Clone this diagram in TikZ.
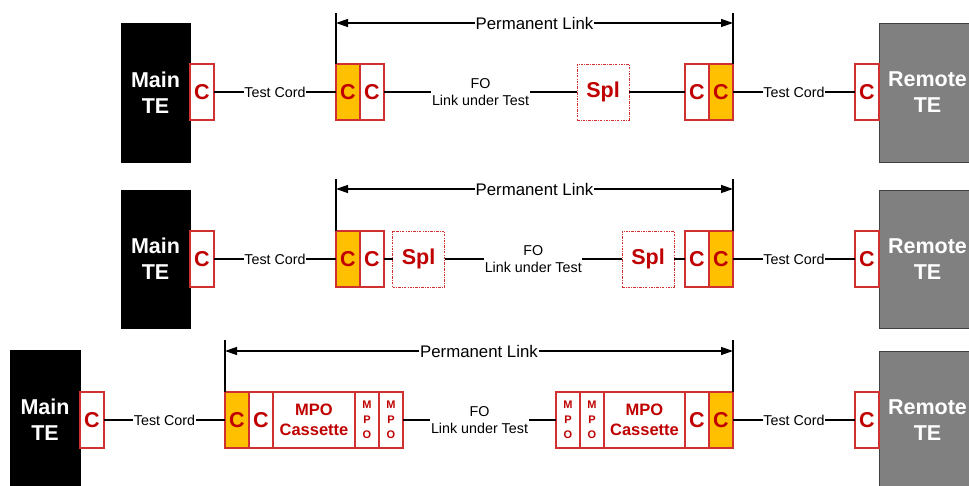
\documentclass[tikz,border=0pt]{standalone}
\usepackage{fontspec}
\setmainfont{Liberation Sans}
\usetikzlibrary{arrows.meta}
\definecolor{cred}{HTML}{C00000}
\definecolor{bred}{HTML}{D03030}
\definecolor{corange}{HTML}{FFC000}
\definecolor{cgray}{HTML}{808080}
\definecolor{dgray}{HTML}{404040}
\tikzset{
 box/.style={draw=bred, line width=1.1pt, inner sep=0pt, outer sep=0pt, font=\fontsize{21.5}{24}\selectfont\bfseries, text=cred, anchor=center},
 cbox/.style={box, fill=white, minimum width=24pt, minimum height=56pt},
 obox/.style={cbox, fill=corange},
 splbox/.style={box, fill=white, line width=0.8pt, dash pattern=on 2.5pt off 1.2pt on 0.8pt off 1.2pt, minimum width=52pt, minimum height=56pt},
 casbox/.style={box, fill=white, minimum height=56pt, font=\fontsize{16.5}{20}\selectfont\bfseries, align=center},
 mpobox/.style={box, fill=white, minimum width=24pt, minimum height=56pt, font=\fontsize{11}{15}\selectfont\bfseries, align=center},
 mainte/.style={fill=black, draw=black, inner sep=0pt, outer sep=0pt, minimum width=69pt, minimum height=139pt, text=white, font=\fontsize{21.5}{26}\selectfont\bfseries, align=center},
 remte/.style={mainte, fill=cgray, draw=dgray, line width=0.6pt, minimum width=97pt},
 cable/.style={line width=2pt, black},
 lbl/.style={fill=white, inner sep=0.6pt, font=\fontsize{14.3}{17}\selectfont, align=center, text=black},
 plink/.style={line width=1.3pt, {Triangle[length=12pt,width=8pt]}-{Triangle[length=12pt,width=8pt]}},
 bar/.style={line width=1.3pt},
 plbl/.style={fill=white, inner sep=1pt, font=\fontsize{16.8}{20}\selectfont},
}
\begin{document}
\begin{tikzpicture}[x=1pt,y=-1pt]
\useasboundingbox (0,0) rectangle (969,486);
\clip (0,0) rectangle (969,486);

% ---------- Row 1 ----------
\node[mainte] (m1) at (155.5,92.5) {Main\\TE};
\node[cbox] (c1a) at (202,92) {C};
\node[obox] (o1a) at (348,92) {C};
\node[cbox] (c1b) at (372,92) {C};
\node[splbox] (s1) at (603,92) {Spl};
\node[cbox] (c1c) at (697,92) {C};
\node[obox] (o1b) at (721,92) {C};
\node[remte] (r1) at (927.5,92.5) {Remote\\TE};
\node[cbox] (c1d) at (867,92) {C};
\draw[cable] (c1a) -- node[lbl]{Test Cord} (o1a);
\draw[cable] (c1b) -- node[lbl]{FO\\Link under Test} (s1);
\draw[cable] (s1) -- (c1c);
\draw[cable] (o1b) -- node[lbl]{Test Cord} (c1d);
\coordinate (t1l) at (336,13);
\coordinate (t1r) at (733,13);
\coordinate (a1l) at (336,23);
\coordinate (a1r) at (733,23);
\draw[bar] (o1a.north west) -- (t1l);
\draw[bar] (o1b.north east) -- (t1r);
\draw[plink] (a1l) -- node[plbl]{Permanent Link} (a1r);

% ---------- Row 2 ----------
\node[mainte, minimum height=138pt] (m2) at (155.5,259) {Main\\TE};
\node[cbox] (c2a) at (202,259) {C};
\node[obox] (o2a) at (348,259) {C};
\node[cbox] (c2b) at (372,259) {C};
\node[splbox] (s2a) at (418.5,259) {Spl};
\node[splbox] (s2b) at (648,259) {Spl};
\node[cbox] (c2c) at (697,259) {C};
\node[obox] (o2b) at (721,259) {C};
\node[remte, minimum height=138pt] (r2) at (927.5,259) {Remote\\TE};
\node[cbox] (c2d) at (867,259) {C};
\draw[cable] (c2a) -- node[lbl]{Test Cord} (o2a);
\draw[cable] (c2b) -- (s2a);
\draw[cable] (s2a) -- node[lbl]{FO\\Link under Test} (s2b);
\draw[cable] (s2b) -- (c2c);
\draw[cable] (o2b) -- node[lbl]{Test Cord} (c2d);
\coordinate (t2l) at (336,179);
\coordinate (t2r) at (733,179);
\coordinate (a2l) at (336,189);
\coordinate (a2r) at (733,189);
\draw[bar] (o2a.north west) -- (t2l);
\draw[bar] (o2b.north east) -- (t2r);
\draw[plink] (a2l) -- node[plbl]{Permanent Link} (a2r);

% ---------- Row 3 ----------
\node[mainte, minimum width=70pt] (m3) at (45,420) {Main\\TE};
\node[cbox] (c3a) at (92,420) {C};
\node[obox] (o3a) at (237,420) {C};
\node[cbox] (c3b) at (261,420) {C};
\node[casbox, minimum width=82pt] (k3a) at (314,420) {MPO\\Cassette};
\node[mpobox] (p3a) at (367,420) {M\\P\\O};
\node[mpobox] (p3b) at (391,420) {M\\P\\O};
\node[mpobox] (p3c) at (568,420) {M\\P\\O};
\node[mpobox] (p3d) at (592,420) {M\\P\\O};
\node[casbox, minimum width=81pt] (k3b) at (644.5,420) {MPO\\Cassette};
\node[cbox] (c3c) at (697,420) {C};
\node[obox] (o3b) at (721,420) {C};
\node[remte] (r3) at (927.5,420.5) {Remote\\TE};
\node[cbox] (c3d) at (867,420) {C};
\draw[cable] (c3a) -- node[lbl]{Test Cord} (o3a);
\draw[cable] (p3b) -- node[lbl]{FO\\Link under Test} (p3c);
\draw[cable] (o3b) -- node[lbl]{Test Cord} (c3d);
\coordinate (t3l) at (225,340);
\coordinate (t3r) at (733,340);
\coordinate (a3l) at (225,351);
\coordinate (a3r) at (733,351);
\draw[bar] (o3a.north west) -- (t3l);
\draw[bar] (o3b.north east) -- (t3r);
\draw[plink] (a3l) -- node[plbl]{Permanent Link} (a3r);
\end{tikzpicture}
\end{document}
